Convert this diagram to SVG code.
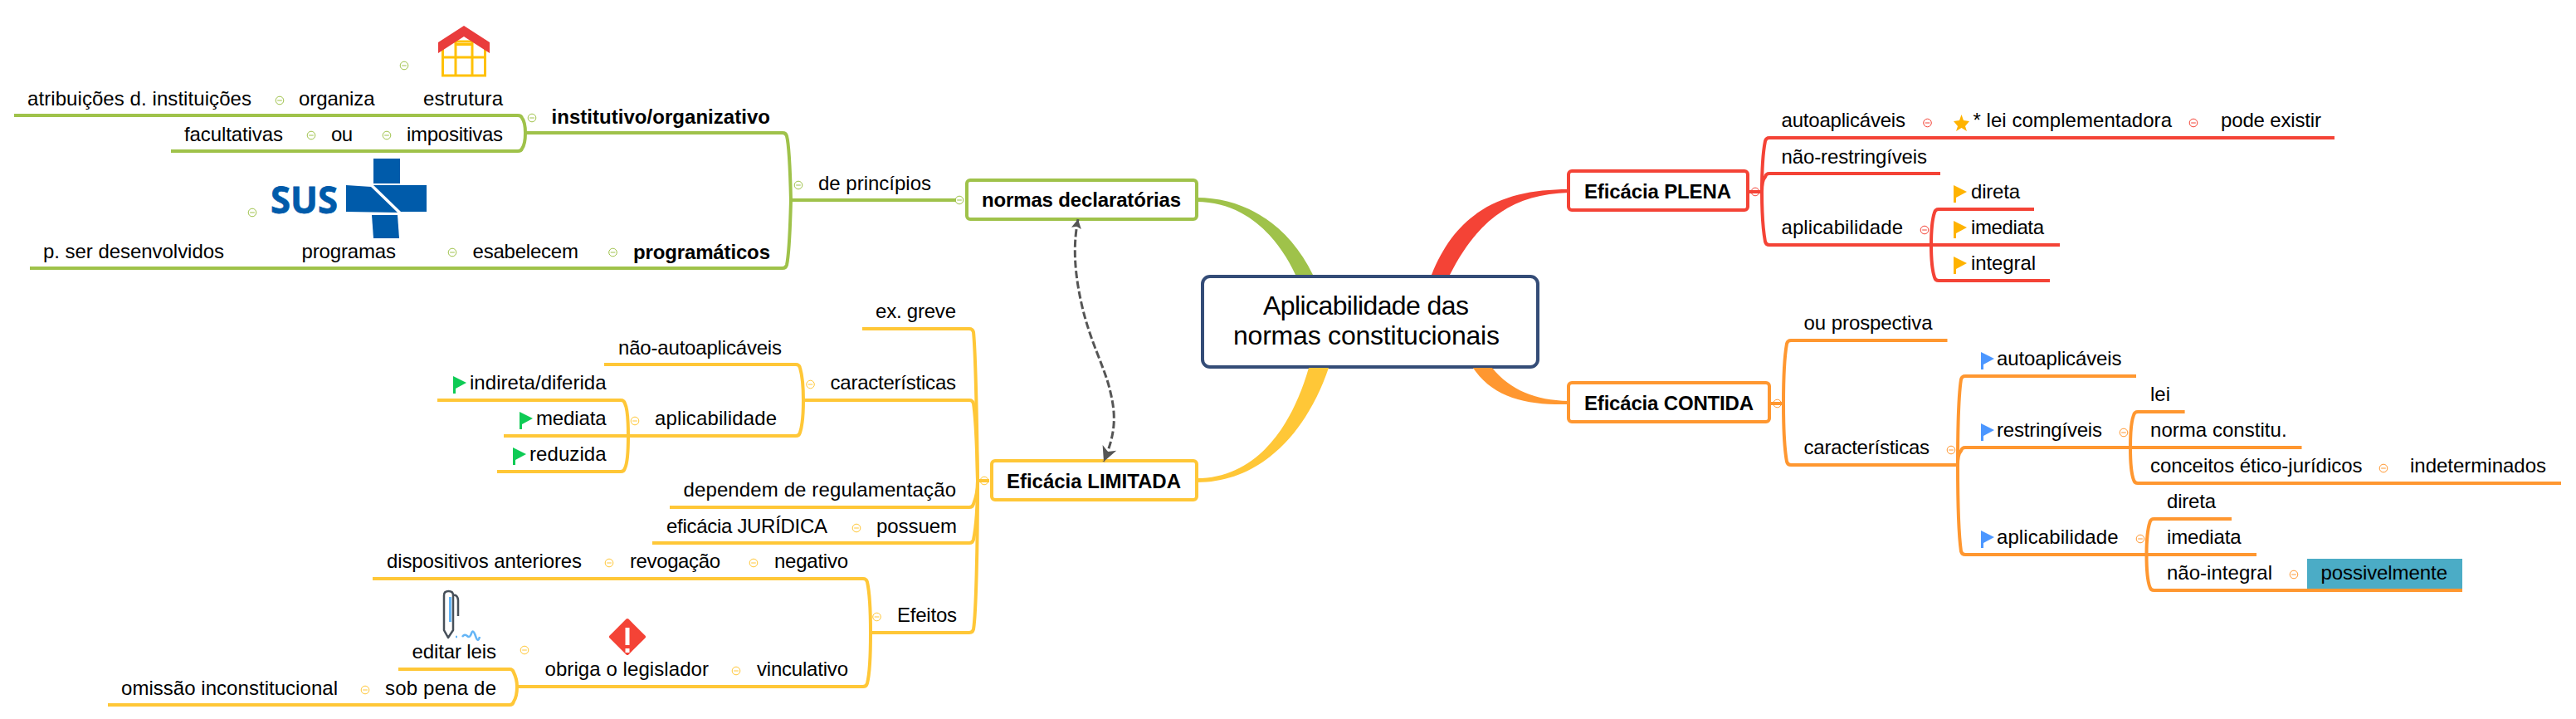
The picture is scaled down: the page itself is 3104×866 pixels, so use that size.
<svg xmlns="http://www.w3.org/2000/svg" width="3104" height="866" viewBox="0 0 3104 866">
<style>
text{font-family:"Liberation Sans",Arial,sans-serif;font-size:24px;fill:#000}
.b{font-weight:bold}
.c{font-size:32px}
.box{fill:#fff;stroke-width:4}
.l{fill:none;stroke-width:4}
.gr{stroke:#9FC24A}.ye{stroke:#FFC737}.re{stroke:#F44336}.or{stroke:#FF9730}
.cg circle{fill:#fff;stroke-width:1.6}
.cg line{stroke:#6A6ACF;stroke-width:1.5}
</style>
<defs>
<g id="col"><circle r="4.8"/><line x1="-2.8" x2="2.8" y1="0" y2="0"/></g>
<g id="flag"><polygon points="0,0 16,8 3,15 3,21 0,21"/></g>
<marker id="a1" markerUnits="userSpaceOnUse" markerWidth="16" markerHeight="16" refX="1" refY="8" orient="auto"><path d="M1,8 L12,2 L10,8 L12,14 Z" fill="#555"/></marker>
<marker id="a2" markerUnits="userSpaceOnUse" markerWidth="22" markerHeight="22" refX="19" refY="10" orient="auto"><path d="M19,10 L1,1 L6,10 L1,19 Z" fill="#555"/></marker>
</defs>

<g id="root"><rect class="box" x="1449" y="333" width="404" height="109" rx="9" stroke="#344C77"/>
<text class="c" x="1522" y="379" textLength="248">Aplicabilidade das</text><text class="c" x="1486" y="415" textLength="321">normas constitucionais</text></g>
<g id="n-declaratorias"><rect class="box gr" x="1165" y="217" width="277" height="47" rx="4"/><text class="b" x="1183" y="249" textLength="240">normas declaratórias</text></g>
<g id="n-limitada"><rect class="box ye" x="1195" y="555" width="247" height="47" rx="4"/><text class="b" x="1213" y="588" textLength="210">Eficácia LIMITADA</text></g>
<g id="n-plena"><rect class="box re" x="1890" y="206" width="216" height="47" rx="4"/><text class="b" x="1909" y="239" textLength="177">Eficácia PLENA</text></g>
<g id="n-contida"><rect class="box or" x="1890" y="461" width="242" height="47" rx="4"/><text class="b" x="1909" y="494" textLength="204">Eficácia CONTIDA</text></g>

<g id="connectors">
<path fill="#9FC24A" d="M1442,238 C1500,238 1552,270 1582,331 L1561,331 C1540,285 1500,243 1442,243 Z"/>
<path fill="#F44336" d="M1890,228 C1810,228 1755,255 1725,331 L1747,331 C1782,262 1825,234 1890,232 Z"/>
<path fill="#FF9730" d="M1890,487 C1840,488 1800,480 1775,443 L1798,443 C1820,470 1850,482 1890,483 Z"/>
<path fill="#FFC737" d="M1442,581 C1520,581 1575,520 1601,443 L1577,443 C1555,520 1510,576 1442,576 Z"/>
<g class="l gr">
<path d="M953,241 L1152,241"/>
<path d="M953,241 C952,200 951,175 948,164 Q947,160 943,160 L633,160"/>
<path d="M953,241 C952,280 951,305 948,319 Q947,323 943,323 L36,323"/>
<path d="M633,160 C633,150 632,146 629,142 Q628,139 624,139 L17,139"/>
<path d="M633,160 C633,170 632,175 629,179 Q628,182 624,182 L206,182"/>
</g>
<g class="l ye">
<path d="M1178,579 L1192,579"/>
<path d="M1178,579 C1177,500 1175,420 1173,400 Q1172,396 1168,396 L1039,396"/>
<path d="M1178,579 C1177,530 1175,500 1173,486 Q1172,482 1168,482 L968,482"/>
<path d="M1178,579 C1178,590 1176,600 1173,607 Q1172,611 1168,611 L807,611"/>
<path d="M1178,579 C1178,610 1176,635 1173,650 Q1172,654 1168,654 L786,654"/>
<path d="M1178,579 C1178,660 1176,740 1173,758 Q1172,762 1168,762 L1049,762"/>
<path d="M968,482 C968,465 966,450 964,443 Q963,439 959,439 L728,439"/>
<path d="M968,482 C968,500 966,515 964,521 Q963,525 959,525 L607,525"/>
<path d="M757,525 C757,505 755,490 753,486 Q752,482 748,482 L527,482"/>
<path d="M757,525 C757,545 755,560 753,564 Q752,568 748,568 L599,568"/>
<path d="M1049,762 C1049,730 1047,710 1045,701 Q1044,697 1040,697 L449,697"/>
<path d="M1049,762 C1049,795 1047,815 1045,823 Q1044,827 1040,827 L623,827"/>
<path d="M623,827 C623,820 621,814 619,810 Q618,806 614,806 L480,806"/>
<path d="M623,827 C623,835 621,842 619,845 Q618,849 614,849 L130,849"/>
</g>
<g class="l re">
<path d="M2106,231 L2123,231"/>
<path d="M2123,231 C2123,200 2125,180 2127,170 Q2128,166 2132,166 L2813,166"/>
<path d="M2123,231 C2123,220 2125,215 2127,213 Q2128,209 2132,209 L2338,209"/>
<path d="M2123,231 C2123,260 2125,280 2127,291 Q2128,295 2132,295 L2482,295"/>
<path d="M2327,295 C2327,275 2329,262 2331,256 Q2332,252 2336,252 L2451,252"/>
<path d="M2327,295 C2327,315 2329,328 2331,334 Q2332,338 2336,338 L2470,338"/>
</g>
<g class="l or">
<path d="M2132,486 L2149,486"/>
<path d="M2149,486 C2149,450 2151,425 2153,414 Q2154,410 2158,410 L2346.5,410"/>
<path d="M2149,486 C2149,520 2151,545 2153,556 Q2154,560 2158,560 L2359,560"/>
<path d="M2359,560 C2359,510 2361,470 2363,457 Q2364,453 2368,453 L2574,453"/>
<path d="M2359,560 C2359,550 2361,545 2363,543 Q2364,539 2368,539 L2773.5,539"/>
<path d="M2359,560 C2359,610 2361,650 2363,664 Q2364,668 2368,668 L2719,668"/>
<path d="M2567,539 C2567,520 2569,505 2571,500 Q2572,496 2576,496 L2632.6,496"/>
<path d="M2567,539 C2567,560 2569,573 2571,578 Q2572,582 2576,582 L3086,582"/>
<path d="M2586.5,668 C2586.5,650 2588.5,635 2590.5,629 Q2591.5,625 2595.5,625 L2689,625"/>
<path d="M2586.5,668 C2586.5,690 2588.5,702 2590.5,707 Q2591.5,711 2595.5,711 L2967,711"/>
</g>
<path id="rel" d="M1299,264 C1294,290 1293,320 1303,365 C1313,410 1330,440 1337,468 C1345,500 1345,520 1330,556" fill="none" stroke="#555" stroke-width="3" stroke-dasharray="9 3.5" marker-start="url(#a1)" marker-end="url(#a2)"/>
</g>

<g class="cg" fill="none">
<g stroke="#9FC24A">
<use href="#col" x="487" y="79"/><use href="#col" x="337" y="121"/><use href="#col" x="641" y="142"/><use href="#col" x="375" y="163"/><use href="#col" x="466" y="163"/><use href="#col" x="304" y="256"/><use href="#col" x="545" y="304"/><use href="#col" x="738.5" y="304"/><use href="#col" x="962" y="223"/><use href="#col" x="1156" y="241"/>
</g>
<g stroke="#FFC737">
<use href="#col" x="1186" y="579"/><use href="#col" x="976.5" y="463"/><use href="#col" x="765" y="507"/><use href="#col" x="1032" y="636"/><use href="#col" x="1056.5" y="743"/><use href="#col" x="908" y="678"/><use href="#col" x="734" y="678"/><use href="#col" x="887" y="808"/><use href="#col" x="632" y="783"/><use href="#col" x="440" y="831"/>
</g>
<g stroke="#F44336">
<use href="#col" x="2115" y="231"/><use href="#col" x="2322.5" y="148"/><use href="#col" x="2643" y="148"/><use href="#col" x="2319" y="277"/>
</g>
<g stroke="#FF9730">
<use href="#col" x="2141.6" y="486"/><use href="#col" x="2351" y="542"/><use href="#col" x="2559" y="521"/><use href="#col" x="2872" y="564"/><use href="#col" x="2579" y="649"/><use href="#col" x="2764" y="692"/>
</g>
</g>

<g id="n-institutivo"><text class="b" x="664.5" y="149" textLength="263.5">institutivo/organizativo</text></g>
<g id="n-estrutura"><text x="510" y="127" textLength="96">estrutura</text>
<g fill="none" stroke="#FFC107" stroke-width="3"><rect x="533.5" y="50" width="51" height="41"/><path d="M549,44V91M569,44V91M533.5,69H584.5M549,53.500H569"/></g>
<polygon points="559,31 590,51 590,64 559,44 528,64 528,51" fill="#E93C3C"/></g>
<g id="n-organiza"><text x="360" y="127" textLength="91.500">organiza</text></g>
<g id="n-atribuicoes"><text x="33" y="127" textLength="270">atribuições d. instituições</text></g>
<g id="n-impositivas"><text x="490" y="170" textLength="116">impositivas</text></g>
<g id="n-ou"><text x="399" y="170" textLength="26">ou</text></g>
<g id="n-facultativas"><text x="222" y="170" textLength="119">facultativas</text></g>
<g id="n-principios"><text x="986" y="229" textLength="136">de princípios</text></g>
<g id="n-programaticos"><text class="b" x="763" y="312" textLength="165">programáticos</text></g>
<g id="n-esabelecem"><text x="569.500" y="311" textLength="127.500">esabelecem</text></g>
<g id="n-programas"><text x="363.500" y="311" textLength="113.500">programas</text>
<text x="326" y="257" textLength="81" lengthAdjust="spacingAndGlyphs" style="font-family:'Open Sans','Liberation Sans',sans-serif;font-weight:bold;font-size:45px;fill:#005BAA;stroke:#005BAA;stroke-width:.8">SUS</text>
<g fill="#005BAA"><rect x="450" y="191" width="32" height="30"/><polygon points="417,223 447,225 479,256 417,255"/><polygon points="450,223 514,223 514,255 483,255"/><polygon points="448,259 479,259 481,287 450,287"/></g></g>
<g id="n-desenvolvidos"><text x="52" y="311" textLength="218">p. ser desenvolvidos</text></g>

<g id="n-greve"><text x="1055" y="383" textLength="97">ex. greve</text></g>
<g id="n-caract"><text x="1000.5" y="469" textLength="151.500">características</text></g>
<g id="n-naoauto"><text x="745" y="427" textLength="197">não-autoaplicáveis</text></g>
<g id="n-aplic"><text x="789" y="512" textLength="147">aplicabilidade</text></g>
<g id="n-indireta" fill="#0ECB55"><use href="#flag" x="546" y="453"/><text x="566" y="469" textLength="164.600">indireta/diferida</text></g>
<g id="n-mediata" fill="#0ECB55"><use href="#flag" x="626" y="496"/><text x="646" y="512" textLength="84.600">mediata</text></g>
<g id="n-reduzida" fill="#0ECB55"><use href="#flag" x="618" y="539"/><text x="638" y="555" textLength="92.600">reduzida</text></g>
<g id="n-depend"><text x="823.500" y="598" textLength="328.500">dependem de regulamentação</text></g>
<g id="n-possuem"><text x="1056" y="642" textLength="97">possuem</text></g>
<g id="n-juridica"><text x="803" y="642" textLength="194">eficácia JURÍDICA</text></g>
<g id="n-efeitos"><text x="1081" y="749" textLength="72">Efeitos</text></g>
<g id="n-negativo"><text x="933" y="684" textLength="89">negativo</text></g>
<g id="n-revogacao"><text x="759" y="684" textLength="109">revogação</text></g>
<g id="n-dispositivos"><text x="466" y="684" textLength="235">dispositivos anteriores</text></g>
<g id="n-vinculativo"><text x="912" y="814" textLength="110">vinculativo</text></g>
<g id="n-obriga"><text x="656.500" y="814" textLength="197.500">obriga o legislador</text>
<path d="M756,747 L776,767 L756,787 L736,767 Z" fill="#F44336" stroke="#F44336" stroke-width="4" stroke-linejoin="round"/>
<rect x="753.500" y="756" width="5" height="21" fill="#fff"/><rect x="753.500" y="781" width="5" height="5" fill="#fff"/></g>
<g id="n-editar"><text x="496.500" y="793" textLength="101.500">editar leis</text>
<path d="M540,768 L535,759 V717 Q535,712 540.500,712 Q546,712 546,717 V759 Z M546,718 Q546,716 549,717 Q552,719 552,723 V742" fill="none" stroke="#47505A" stroke-width="2.500" stroke-linejoin="round"/>
<path d="M542.500,719 V749" stroke="#64B5F6" stroke-width="3"/>
<path d="M549,767h2M557,767 Q560,763 563,766 T568,763 T573,766 T578,767" fill="none" stroke="#64B5F6" stroke-width="2.500"/></g>
<g id="n-sobpena"><text x="464" y="837" textLength="134">sob pena de</text></g>
<g id="n-omissao"><text x="146" y="837" textLength="261">omissão inconstitucional</text></g>

<g id="n-auto"><text x="2146.500" y="153" textLength="149.500">autoaplicáveis</text></g>
<g id="n-lei"><polygon points="2363.500,138 2366,145 2373,146 2368,152 2370,158 2363.500,154 2357,158 2359,152 2354,146 2361,145" fill="#FFB300"/><text x="2377.500" y="153" textLength="239.500">* lei complementadora</text></g>
<g id="n-pode"><text x="2676" y="153" textLength="121">pode existir</text></g>
<g id="n-naorest"><text x="2146.500" y="197" textLength="175.500">não-restringíveis</text></g>
<g id="n-aplic2"><text x="2146.500" y="282" textLength="146.500">aplicabilidade</text></g>
<g id="n-direta" fill="#FFB300"><use href="#flag" x="2354" y="223"/><text x="2375" y="239" textLength="59">direta</text></g>
<g id="n-imediata" fill="#FFB300"><use href="#flag" x="2354" y="266"/><text x="2375" y="282" textLength="88">imediata</text></g>
<g id="n-integral" fill="#FFB300"><use href="#flag" x="2354" y="309"/><text x="2375" y="325" textLength="78">integral</text></g>

<g id="n-prosp"><text x="2173.600" y="397" textLength="155">ou prospectiva</text></g>
<g id="n-caract2"><text x="2173.600" y="547" textLength="151.500">características</text></g>
<g id="n-auto2" fill="#4C97FF"><use href="#flag" x="2387" y="424"/><text x="2406" y="440" textLength="150.500">autoaplicáveis</text></g>
<g id="n-restr" fill="#4C97FF"><use href="#flag" x="2387" y="510"/><text x="2406" y="526" textLength="127">restringíveis</text></g>
<g id="n-aplic3" fill="#4C97FF"><use href="#flag" x="2387" y="639"/><text x="2406" y="655" textLength="146.600">aplicabilidade</text></g>
<g id="n-lei2"><text x="2591" y="483" textLength="24">lei</text></g>
<g id="n-norma"><text x="2591" y="526" textLength="164.600">norma constitu.</text></g>
<g id="n-conceitos"><text x="2591" y="569" textLength="255.500">conceitos ético-jurídicos</text></g>
<g id="n-indet"><text x="2904" y="569" textLength="164">indeterminados</text></g>
<g id="n-direta2"><text x="2611" y="612" textLength="59">direta</text></g>
<g id="n-imediata2"><text x="2611" y="655" textLength="89.500">imediata</text></g>
<g id="n-naoint"><text x="2611" y="698" textLength="127">não-integral</text></g>
<g id="n-poss"><rect x="2780" y="673" width="187" height="36" fill="#4BACC6"/><text x="2796.500" y="698" textLength="152.500">possivelmente</text></g>
</svg>
